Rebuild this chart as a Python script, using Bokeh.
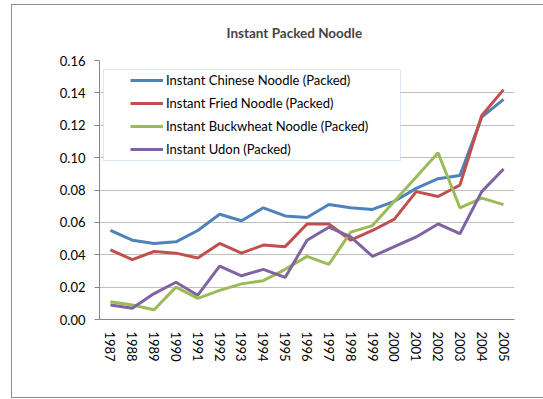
from bokeh.plotting import figure
from bokeh.models import (FactorRange, Range1d, FixedTicker, NumeralTickFormatter,
                          Legend, LegendItem, BoxAnnotation)
from bokeh.embed import file_html
from bokeh.resources import INLINE

years = [str(y) for y in range(1987, 2006)]
chinese = [0.055, 0.049, 0.047, 0.048, 0.055, 0.065, 0.061, 0.069, 0.064, 0.063,
           0.071, 0.069, 0.068, 0.073, 0.081, 0.087, 0.089, 0.125, 0.136]
fried = [0.043, 0.037, 0.042, 0.041, 0.038, 0.047, 0.041, 0.046, 0.045, 0.059,
         0.059, 0.049, 0.055, 0.062, 0.079, 0.076, 0.083, 0.126, 0.142]
buckwheat = [0.011, 0.009, 0.006, 0.020, 0.013, 0.018, 0.022, 0.024, 0.031, 0.039,
             0.034, 0.054, 0.058, 0.073, 0.088, 0.103, 0.069, 0.075, 0.071]
udon = [0.009, 0.007, 0.016, 0.023, 0.015, 0.033, 0.027, 0.031, 0.026, 0.049,
        0.057, 0.051, 0.039, 0.045, 0.051, 0.059, 0.053, 0.079, 0.093]
series_names = ["Instant Chinese Noodle (Packed)", "Instant Fried Noodle (Packed)",
                "Instant Buckwheat Noodle (Packed)", "Instant Udon (Packed)"]
colors = ["#4F81BD", "#C0504D", "#9BBB59", "#8064A2"]
y_ticks = [0.0, 0.02, 0.04, 0.06, 0.08, 0.10, 0.12, 0.14, 0.16]

FONT = "Lato"
BORDER = "linear-gradient(#8c8c8c,#8c8c8c)"

p = figure(width=543, height=399, x_range=FactorRange(factors=years, range_padding=0),
           y_range=Range1d(0, 0.16), output_backend="svg", toolbar_location=None,
           min_border_left=99, min_border_right=29, min_border_top=60, min_border_bottom=80,
           title="Instant Packed Noodle")
p.outline_line_color = None
p.background_fill_color = "white"
p.border_fill_alpha = 0
p.styles = {
    "background": (f"{BORDER} 11px 4px / 1px 394px no-repeat, "
                   f"{BORDER} 11px 4px / 532px 1px no-repeat, "
                   f"{BORDER} 11px 397px / 532px 1px no-repeat, white"),
}

p.title.text_font = FONT
p.title.text_font_size = "13.5px"
p.title.text_font_style = "bold"
p.title.align = "left"
p.title.offset = 127
p.title.standoff = 40

# legend box
p.add_layout(BoxAnnotation(left=103, right=400, top=69, bottom=160,
                           left_units="canvas", right_units="canvas",
                           top_units="canvas", bottom_units="canvas",
                           fill_color="white", fill_alpha=1,
                           line_color="#8DB3E2", line_width=1.2))

p.xgrid.grid_line_color = None
p.ygrid.grid_line_color = "#BFBFBF"
p.ygrid.grid_line_width = 1

p.yaxis.ticker = FixedTicker(ticks=y_ticks)
p.yaxis.formatter = NumeralTickFormatter(format="0.00")
p.yaxis.axis_line_color = "#868686"
p.yaxis.major_tick_line_color = "#868686"
p.yaxis.major_tick_out = 5
p.yaxis.major_tick_in = 0
p.yaxis.minor_tick_line_color = None
p.yaxis.major_label_standoff = 9
p.yaxis.major_label_text_font = FONT
p.yaxis.major_label_text_font_size = "13px"
p.yaxis.major_label_text_color = "black"

p.xaxis.axis_line_color = "#868686"
p.xaxis.major_tick_line_color = None
p.xaxis.major_tick_out = 0
p.xaxis.major_label_orientation = "vertical"
p.xaxis.major_label_standoff = 12
p.xaxis.major_label_text_font = FONT
p.xaxis.major_label_text_font_size = "13px"
p.xaxis.major_label_text_color = "black"

items = []
for name, vals, col in zip(series_names, [chinese, fried, buckwheat, udon], colors):
    r = p.line(x=years, y=vals, line_color=col, line_width=3)
    items.append(LegendItem(label=name, renderers=[r]))

legend = Legend(items=items, location=(31, 160), padding=0, spacing=3,
                glyph_width=33, glyph_height=20, label_height=20, label_standoff=3,
                border_line_color=None, background_fill_alpha=0,
                label_text_font=FONT, label_text_font_size="13px",
                label_text_color="black", margin=0)
p.add_layout(legend)

open("out.html", "w").write(file_html(p, INLINE))
